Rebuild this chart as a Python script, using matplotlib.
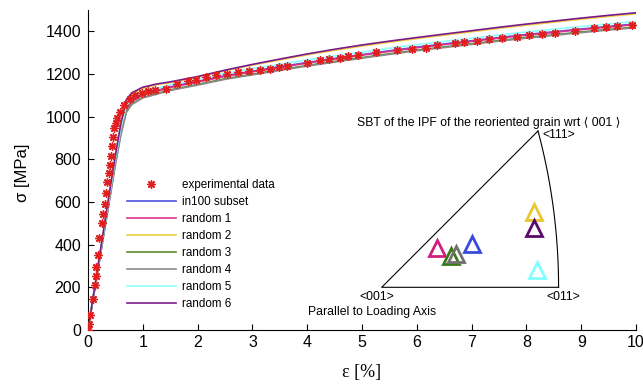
import numpy as np
import matplotlib
matplotlib.use('Agg')
import matplotlib.pyplot as plt

plt.rcParams['font.family'] = ['Liberation Sans', 'DejaVu Sans']

# experimental data (strain %, stress MPa)
exp_eps = [0.005, 0.018, 0.036, 0.086, 0.128, 0.146, 0.14, 0.188, 0.206, 0.255, 0.268,
           0.305, 0.323, 0.352, 0.378, 0.401, 0.414, 0.443, 0.462, 0.48, 0.505, 0.535,
           0.584, 0.66, 0.77, 0.86, 0.98, 1.1, 1.22, 1.42, 1.62, 1.82, 1.97, 2.15, 2.34,
           2.53, 2.74, 2.94, 3.13, 3.32, 3.49, 3.64, 3.99, 4.23, 4.40, 4.60, 4.75, 4.92,
           5.25, 5.63, 5.92, 6.16, 6.36, 6.70, 6.87, 7.09, 7.32, 7.55, 7.82, 8.05, 8.29,
           8.53, 8.89, 9.24, 9.46, 9.66, 9.93]
exp_sig = [0, 30, 70, 144, 210, 253, 295, 351, 430, 500, 542,
           589, 643, 695, 734, 773, 815, 862, 906, 945, 968, 996,
           1023, 1055, 1085, 1100, 1110, 1118, 1123, 1132, 1155, 1168, 1174, 1184, 1194,
           1202, 1210, 1215, 1221, 1224, 1233, 1237, 1252, 1265, 1268, 1277, 1283, 1288,
           1304, 1311, 1315, 1324, 1334, 1343, 1350, 1355, 1362, 1369, 1374, 1385, 1388,
           1394, 1402, 1415, 1421, 1424, 1432]

# simulated curves
sim_eps = [0, 0.1, 0.2, 0.3, 0.4, 0.5, 0.6, 0.7, 0.8, 1.0, 1.25, 1.5, 2, 2.5, 3, 3.5,
           4, 4.5, 5, 5.5, 6, 6.5, 7, 7.5, 8, 8.5, 9, 9.5, 10]
in100 = [0, 160, 320, 480, 640, 800, 940, 1040, 1075, 1105, 1122, 1140, 1165, 1192, 1213, 1234,
         1254, 1273, 1291, 1309, 1326, 1341, 1356, 1371, 1385, 1398, 1411, 1423, 1435]
random1 = [0, 159, 318, 477, 636, 795, 935, 1036, 1071, 1101, 1119, 1137, 1162, 1189, 1210, 1231,
           1251, 1270, 1288, 1306, 1323, 1338, 1353, 1368, 1382, 1395, 1408, 1420, 1432]
random2 = [0, 163, 326, 490, 653, 815, 962, 1073, 1106, 1133, 1150, 1160, 1185, 1215, 1242, 1266,
           1290, 1311, 1331, 1349, 1366, 1382, 1398, 1414, 1429, 1443, 1457, 1470, 1482]
random3 = [0, 156, 312, 468, 624, 780, 920, 1024, 1060, 1090, 1108, 1126, 1151, 1178, 1199, 1220,
           1240, 1259, 1277, 1295, 1312, 1327, 1342, 1357, 1371, 1384, 1397, 1409, 1420]
random4 = [0, 155, 310, 465, 620, 775, 915, 1020, 1057, 1088, 1105, 1123, 1148, 1175, 1196, 1217,
           1237, 1256, 1274, 1292, 1309, 1324, 1339, 1354, 1368, 1381, 1394, 1406, 1417]
random5 = [0, 161, 322, 483, 644, 805, 948, 1050, 1085, 1114, 1132, 1150, 1176, 1203, 1225, 1246,
           1266, 1285, 1303, 1321, 1338, 1353, 1368, 1383, 1397, 1410, 1423, 1435, 1446]
random6 = [0, 165, 330, 495, 660, 820, 968, 1080, 1112, 1138, 1153, 1163, 1188, 1218, 1245, 1270,
           1294, 1316, 1336, 1354, 1371, 1387, 1403, 1419, 1434, 1448, 1462, 1475, 1487]

labels = ['in100 subset', 'random 1', 'random 2', 'random 3', 'random 4', 'random 5', 'random 6']
line_colors = ['#5050e0', '#e0308f', '#f0d040', '#5a8a30', '#8a8a8a', '#90ffff', '#7a1a8a']
tri_colors = ['#3a4ad8', '#d0207f', '#e8c830', '#3a7a1a', '#707070', '#80ffff', '#5a0a6a']

# IPF positions (stereographic coords) of the reoriented grain
ipf_x = [0.211, 0.129, 0.357, 0.162, 0.174, 0.363, 0.357]
ipf_y = [0.101, 0.091, 0.176, 0.074, 0.078, 0.041, 0.140]

W, H = 643, 386
fig = plt.figure(figsize=(W / 100, H / 100), dpi=100)


def fx(x):
    return x / W


def fy(y):
    return (H - y) / H


ax = fig.add_axes([fx(88), fy(330), (636 - 88) / W, (330 - 10) / H])
curves = [in100, random1, random2, random3, random4, random5, random6]
handles = []
star, = ax.plot(exp_eps, exp_sig, linestyle='none', marker=(8, 2, 0), color='#e02020',
                markersize=6, markeredgewidth=1.0, zorder=5, label='experimental data')
handles.append(star)
for c, col, lab in zip(curves, line_colors, labels):
    h, = ax.plot(sim_eps, c, color=col, lw=1.2, label=lab)
    handles.append(h)

ax.set_xlim(0, 10)
ax.set_ylim(0, 1500)
ax.set_xticks(range(0, 11))
ax.set_yticks(range(0, 1401, 200))
ax.spines['top'].set_visible(False)
ax.spines['right'].set_visible(False)
ax.tick_params(direction='in', length=4, labelsize=11.5)
ax.tick_params(axis='y', pad=5)

fig.text(fx(22), fy(173), 'σ [MPa]', rotation=90, ha='center', va='center', fontsize=12)
fig.text(fx(362), fy(372), 'ε [%]', ha='center', va='center', fontsize=13,
         family=['Liberation Serif', 'DejaVu Serif'])

ax.legend(handles=handles, loc='upper left', bbox_to_anchor=(fx(121), fy(173)),
          bbox_transform=fig.transFigure, frameon=False, fontsize=8.4,
          handlelength=4.2, handletextpad=0.5, labelspacing=0.43, borderpad=0)

# inset: standard stereographic triangle
scale = 427.0
ox, oy = 381.7, 287.3
xmax, ymax = 0.44, 0.40
ins = fig.add_axes([fx(ox), fy(oy), xmax * scale / W, ymax * scale / H])
ins.set_xlim(0, xmax)
ins.set_ylim(0, ymax)
ins.axis('off')
s = np.linspace(0, 1, 60)
arc_x = 1 / (np.sqrt(2 + s ** 2) + 1)
arc_y = s / (np.sqrt(2 + s ** 2) + 1)
p111 = 1 / (np.sqrt(3) + 1)
ins.plot([p111, 0, arc_x[0]], [p111, 0, 0], color='k', lw=0.8, clip_on=False)
ins.plot(arc_x, arc_y, color='k', lw=0.8, clip_on=False)
for x, y, col in zip(ipf_x, ipf_y, tri_colors):
    ins.plot(x, y, marker='^', markersize=12, markerfacecolor='none',
             markeredgecolor=col, markeredgewidth=2, clip_on=False)

fs = 8.8
fig.text(fx(357), fy(123), 'SBT of the IPF of the reoriented grain wrt \u27e8 001 \u27e9',
         ha='left', va='center', fontsize=fs)
fig.text(fx(542), fy(135), '<111>', ha='left', va='center', fontsize=fs)
fig.text(fx(359), fy(297), '<001>', ha='left', va='center', fontsize=fs)
fig.text(fx(546), fy(297), '<011>', ha='left', va='center', fontsize=fs)
fig.text(fx(308), fy(312), 'Parallel to Loading Axis', ha='left', va='center', fontsize=fs)

fig.savefig('out.png', dpi=100)
